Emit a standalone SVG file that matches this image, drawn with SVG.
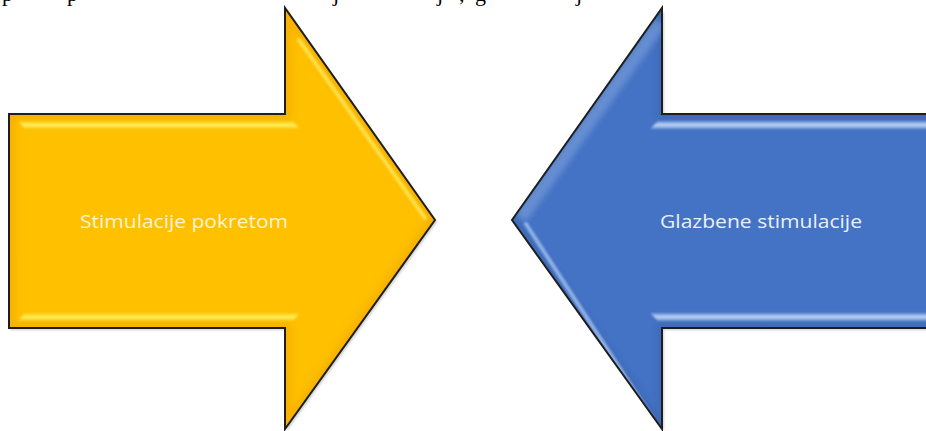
<svg xmlns="http://www.w3.org/2000/svg" width="926" height="431" viewBox="0 0 926 431">
  <style>
    .outline { stroke: #1e1e1e; stroke-width: 2; stroke-linejoin: miter; }
    .label { font-family: "Open Sans", "Noto Sans", "Liberation Sans", sans-serif; font-size: 18px; text-anchor: middle; }
    .frag { font-family: "Liberation Serif", "Times New Roman", serif; font-size: 22px; fill: #000; }
  </style>
  <defs>
    <filter id="soft" x="-10%" y="-10%" width="120%" height="120%">
      <feGaussianBlur stdDeviation="3"/>
    </filter>
    <filter id="glow" x="-10%" y="-50%" width="120%" height="200%">
      <feGaussianBlur stdDeviation="0.9"/>
    </filter>
    <filter id="shadow" x="-5%" y="-5%" width="110%" height="110%">
      <feGaussianBlur stdDeviation="1.2"/>
    </filter>
    <clipPath id="clipY">
      <polygon points="9,114 285,114 285,8 435,220 285,429 285,328 9,328"/>
    </clipPath>
    <clipPath id="clipB">
      <polygon points="940,114 662,114 662,8 512,220 662,429 662,328 940,328"/>
    </clipPath>
    <linearGradient id="stripY" x1="0" y1="0" x2="0" y2="1">
      <stop offset="0" stop-color="#FFD52A" stop-opacity="0.4"/>
      <stop offset="0.5" stop-color="#FFF66A"/>
      <stop offset="1" stop-color="#FFD52A" stop-opacity="0.4"/>
    </linearGradient>
    <linearGradient id="stripB" x1="0" y1="0" x2="0" y2="1">
      <stop offset="0" stop-color="#8DB1E6" stop-opacity="0.5"/>
      <stop offset="0.5" stop-color="#C6DCF8"/>
      <stop offset="1" stop-color="#8DB1E6" stop-opacity="0.5"/>
    </linearGradient>
  </defs>

  <g id="page-text-fragments">
    <text class="frag" x="2" y="1">p</text>
    <text class="frag" x="67" y="1">p</text>
    <text class="frag" x="333" y="1">j</text>
    <text class="frag" x="437" y="1">j</text>
    <text class="frag" x="459" y="1">,</text>
    <text class="frag" x="475" y="1">g</text>
    <text class="frag" x="576" y="1">j</text>
  </g>

  <g id="node-stimulacije-pokretom">
    <polygon points="10,116 287,116 287,11 437,222 287,431 287,330 10,330" fill="#8a8a8a" opacity="0.4" filter="url(#shadow)"/>
    <polygon points="9,114 285,114 285,8 435,220 285,429 285,328 9,328" fill="#FFC000"/>
    <g clip-path="url(#clipY)">
      <polygon points="9,114 285,114 285,8 435,220 285,429 285,328 9,328" fill="none" stroke="#E89A00" stroke-width="12" opacity="0.35" filter="url(#soft)"/>
      <polygon points="18,121 293,121 300,129 25,129" fill="url(#stripY)" filter="url(#glow)"/>
      <polygon points="25,313 300,313 293,321 18,321" fill="url(#stripY)" filter="url(#glow)"/>
      <line x1="299" y1="40" x2="425" y2="218" stroke="#FFEA5A" stroke-width="4" stroke-linecap="round" opacity="0.8" filter="url(#glow)"/>
    </g>
    <polygon class="outline" points="9,114 285,114 285,8 435,220 285,429 285,328 9,328" fill="none"/>
    <text class="label" x="184" y="228" fill="#FFF4D6" textLength="208" lengthAdjust="spacingAndGlyphs">Stimulacije pokretom</text>
  </g>

  <g id="node-glazbene-stimulacije">
    <polygon points="940,116 664,116 664,11 514,222 664,431 664,330 940,330" fill="#8a8a8a" opacity="0.4" filter="url(#shadow)"/>
    <polygon points="940,114 662,114 662,8 512,220 662,429 662,328 940,328" fill="#4472C4"/>
    <g clip-path="url(#clipB)">
      <polygon points="940,114 662,114 662,8 512,220 662,429 662,328 940,328" fill="none" stroke="#2F5597" stroke-width="10" opacity="0.25" filter="url(#soft)"/>
      <line x1="660" y1="22" x2="520" y2="218" stroke="#86A9E2" stroke-width="14" opacity="0.55" filter="url(#soft)"/>
      <polygon points="658,121 940,121 940,129 650,129" fill="url(#stripB)" filter="url(#glow)"/>
      <polygon points="650,313 940,313 940,321 658,321" fill="url(#stripB)" filter="url(#glow)"/>
      <line x1="526" y1="224" x2="652" y2="418" stroke="#9EBFEE" stroke-width="4" stroke-linecap="round" opacity="0.85" filter="url(#glow)"/>
    </g>
    <polygon class="outline" points="940,114 662,114 662,8 512,220 662,429 662,328 940,328" fill="none"/>
    <text class="label" x="761" y="228" fill="#EAF0FA" textLength="202" lengthAdjust="spacingAndGlyphs">Glazbene stimulacije</text>
  </g>

  <g id="connectors"></g>
</svg>
